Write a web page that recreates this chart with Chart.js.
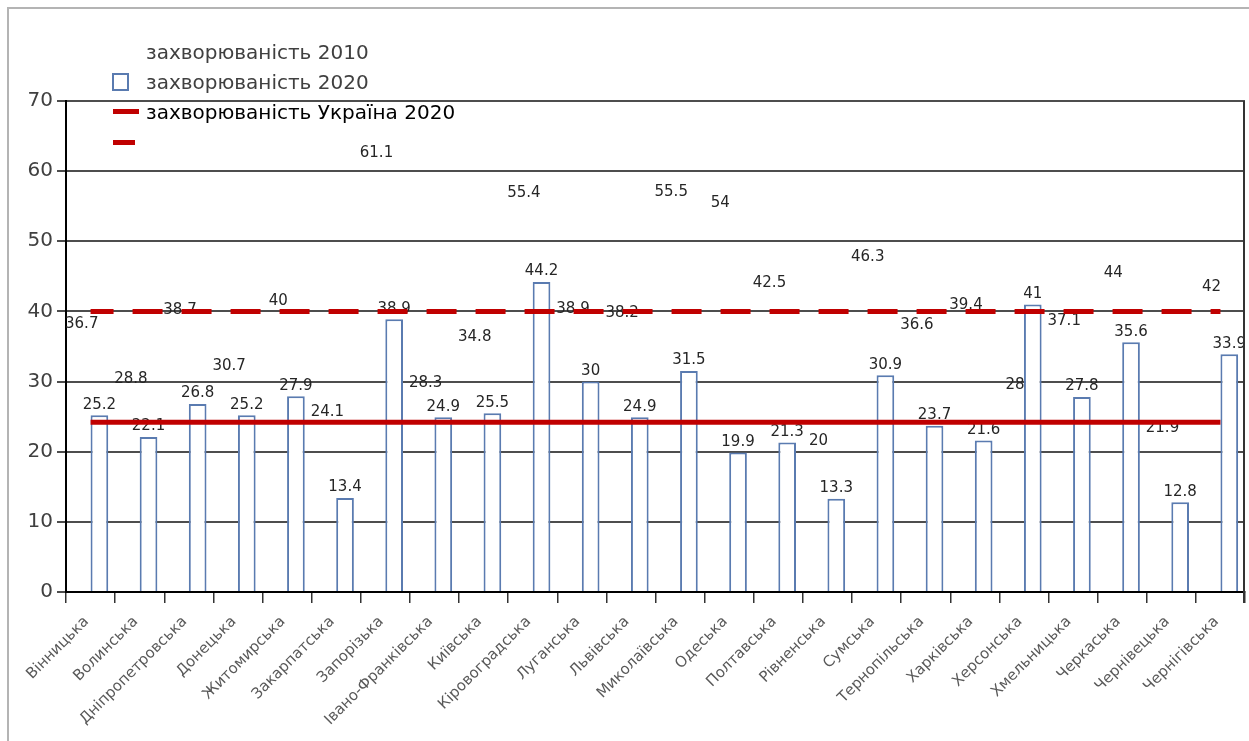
<!DOCTYPE html>
<html lang="uk">
<head>
<meta charset="utf-8">
<script src="https://cdn.jsdelivr.net/npm/chart.js@4.4.1/dist/chart.umd.min.js"></script>
<style>
  body { margin: 0; background: #fff; }
  #wrap { position: relative; width: 1249px; height: 741px; overflow: hidden; }
  #frame { position: absolute; left: 7px; top: 7px; width: 1260px; height: 760px;
           border-left: 2px solid #b4b4b4; border-top: 2px solid #b4b4b4; }
  canvas { position: absolute; left: 0; top: 0; }
  #legend { position: absolute; left: 0; top: 0; font-family: 'DejaVu Sans'; font-size: 20px; color: #404040; }
  .txt { position: absolute; left: 146px; white-space: nowrap; line-height: 24px; }
  .mark { position: absolute; box-sizing: border-box; }
</style>
</head>
<body>
<div id="wrap">
  <div id="frame"></div>
  <canvas id="chart" width="1249" height="741"></canvas>
  <div id="legend"></div>
</div>
<script>
// області
const regions = [
  'Вінницька', 'Волинська', 'Дніпропетровська', 'Донецька', 'Житомирська', 'Закарпатська',
  'Запорізька', 'Івано-Франківська', 'Київська', 'Кіровоградська', 'Луганська', 'Львівська',
  'Миколаївська', 'Одеська', 'Полтавська', 'Рівненська', 'Сумська', 'Тернопільська',
  'Харківська', 'Херсонська', 'Хмельницька', 'Черкаська', 'Чернівецька', 'Чернігівська'
];
const cases2010 = [36.7, 28.8, 38.7, 30.7, 40, 24.1, 61.1, 28.3, 34.8, 55.4, 38.9, 38.2,
                   55.5, 54, 42.5, 20, 46.3, 36.6, 39.4, 28, 37.1, 44, 21.9, 42];
const cases2020 = [25.2, 22.1, 26.8, 25.2, 27.9, 13.4, 38.9, 24.9, 25.5, 44.2, 30, 24.9,
                   31.5, 19.9, 21.3, 13.3, 30.9, 23.7, 21.6, 41, 27.8, 35.6, 12.8, 33.9];
const ukraine2020 = 24.2;   // середнє по Україні
const threshold = 40;       // пунктирна лінія
const seriesNames = ['захворюваність 2010', 'захворюваність 2020', 'захворюваність Україна 2020', ''];
const yMin = 0, yMax = 70, yStep = 10;

const RED = '#c00000';
const BLUE = '#5a7bb0';

// підписи значень над стовпчиками (лінії малюються поверх)
const valueLabels = {
  id: 'valueLabels',
  afterDatasetDraw(chart, args) {
    const ds = chart.data.datasets[args.index];
    if (ds.type !== 'bar') return;
    const c = chart.ctx;
    c.save();
    c.font = '15px "DejaVu Sans"';
    c.fillStyle = '#262626';
    c.textAlign = 'center';
    c.textBaseline = 'bottom';
    args.meta.data.forEach((bar, i) => {
      c.fillText(String(ds.data[i]), bar.x, bar.y - 3);
    });
    c.restore();
  }
};

// права рамка області графіка
const plotEdge = {
  id: 'plotEdge',
  afterDraw(chart) {
    const a = chart.chartArea, c = chart.ctx;
    c.save();
    c.strokeStyle = '#333';
    c.lineWidth = 2;
    c.beginPath();
    c.moveTo(a.right - 1, a.top);
    c.lineTo(a.right - 1, a.bottom + 11);
    c.stroke();
    c.restore();
  }
};

new Chart(document.getElementById('chart'), {
  data: {
    labels: regions,
    datasets: [
      { type: 'bar', label: seriesNames[0], data: cases2010,
        backgroundColor: 'rgba(0,0,0,0)', borderWidth: 0, order: 2 },
      { type: 'bar', label: seriesNames[1], data: cases2020,
        backgroundColor: '#fff', borderColor: BLUE, borderWidth: 2, order: 2 },
      { type: 'line', label: seriesNames[2], data: regions.map(() => ukraine2020),
        borderColor: RED, borderWidth: 5, pointRadius: 0, order: 1 },
      { type: 'line', label: seriesNames[3], data: regions.map(() => threshold),
        borderColor: RED, borderWidth: 5, borderDash: [30, 19], borderDashOffset: 7,
        pointRadius: 0, order: 1 }
    ]
  },
  options: {
    responsive: false,
    animation: false,
    layout: { padding: { top: 101, right: 4, left: 0, bottom: 0 } },
    datasets: { bar: { categoryPercentage: 0.72, barPercentage: 1 } },
    plugins: { legend: { display: false }, tooltip: { enabled: false } },
    scales: {
      x: {
        grid: { offset: true, drawOnChartArea: false, tickLength: 11, color: '#333', lineWidth: 1.5 },
        border: { color: '#000', width: 2 },
        ticks: { minRotation: 45, maxRotation: 45, autoSkip: false, padding: 10, labelOffset: -4,
                 font: { family: 'DejaVu Sans', size: 15 }, color: '#595959' },
        afterFit(s) { s.height = 149; }
      },
      y: {
        min: yMin, max: yMax,
        ticks: { stepSize: yStep, padding: 4, font: { family: 'DejaVu Sans', size: 20 }, color: '#404040' },
        grid: { color: '#4d4d4d', lineWidth: 2, tickLength: 9 },
        border: { color: '#000', width: 2 },
        afterFit(s) { s.width = 66; }
      }
    }
  },
  plugins: [valueLabels, plotEdge]
});

// легенда зліва зверху
const legend = document.getElementById('legend');
const rows = [52, 82, 112, 143];
seriesNames.forEach((name, i) => {
  const t = document.createElement('div');
  t.className = 'txt';
  t.style.top = (rows[i] - 12) + 'px';
  if (i === 2) t.style.color = '#000';
  t.textContent = name;
  legend.appendChild(t);
  const m = document.createElement('div');
  m.className = 'mark';
  if (i === 1) {
    Object.assign(m.style, { left: '112px', top: (rows[i] - 9) + 'px', width: '17px', height: '18px',
                             border: '2px solid ' + BLUE, background: '#fff' });
  } else if (i === 2) {
    Object.assign(m.style, { left: '113px', top: (rows[i] - 3) + 'px', width: '26px', height: '5px', background: RED });
  } else if (i === 3) {
    Object.assign(m.style, { left: '113px', top: (rows[i] - 3) + 'px', width: '22px', height: '5px', background: RED });
  } else {
    return;
  }
  legend.appendChild(m);
});
</script>
</body>
</html>
